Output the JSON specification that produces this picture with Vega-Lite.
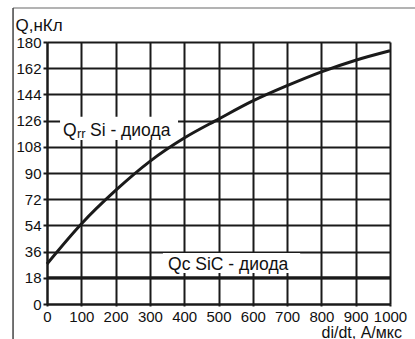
{
  "$schema": "https://vega.github.io/schema/vega-lite/v6.json",
  "width": 343,
  "height": 262,
  "autosize": "none",
  "padding": {"left": 47, "top": 42, "right": 25, "bottom": 35},
  "background": "white",
  "config": {
    "view": {"stroke": null},
    "font": "Liberation Sans",
    "axis": {
      "labelFont": "Liberation Sans",
      "titleFont": "Liberation Sans",
      "labelColor": "#111",
      "titleColor": "#111",
      "labelFontSize": 15,
      "titleFontSize": 15,
      "titleFontWeight": "normal",
      "grid": true,
      "gridColor": "#1a1a1a",
      "gridWidth": 2,
      "gridOpacity": 1,
      "domainColor": "#1a1a1a",
      "domainWidth": 2,
      "tickColor": "#1a1a1a",
      "tickWidth": 2,
      "labelOverlap": false,
      "labelFlush": false
    }
  },
  "datasets": {
    "qrr": [
      {"x": 0, "y": 27.5},
      {"x": 100, "y": 55},
      {"x": 200, "y": 78},
      {"x": 300, "y": 98},
      {"x": 400, "y": 114},
      {"x": 500, "y": 127},
      {"x": 600, "y": 139.5},
      {"x": 700, "y": 150},
      {"x": 800, "y": 159.5},
      {"x": 900, "y": 167.5},
      {"x": 1000, "y": 174}
    ],
    "qc": [
      {"x": 0, "y": 18},
      {"x": 1000, "y": 18}
    ],
    "boxes": [
      {"x": 38, "x2": 382, "y": 112.6, "y2": 128.6},
      {"x": 338, "x2": 738, "y": 21.3, "y2": 35.1}
    ],
    "labels": [
      {"x": 46.6, "y": 115.4, "label": "Q"},
      {"x": 125.4, "y": 115.4, "label": "Si - диода"},
      {"x": 353, "y": 23.3, "label": "Qc SiC - диода"}
    ],
    "subs": [
      {"x": 87.5, "y": 114.3, "label": "rr"}
    ],
    "frameTop": [{"x": -99, "x2": 1100, "y": 203.3}],
    "frameLeft": [{"x": -99, "y": -30, "y2": 203.3}]
  },
  "encoding": {
    "x": {
      "field": "x", "type": "quantitative",
      "scale": {"domain": [0, 1000], "nice": false, "zero": false},
      "axis": {
        "values": [0, 100, 200, 300, 400, 500, 600, 700, 800, 900, 1000],
        "tickCount": 20,
        "format": "d",
        "title": "di/dt, А/мкс",
        "titleFontSize": 16,
        "labelFontSize": 15,
        "titleAlign": "left",
        "titleAnchor": "start",
        "titleX": 274,
        "titleY": 33,
        "titleBaseline": "alphabetic",
        "tickSize": 2,
        "labelPadding": 3
      }
    },
    "y": {
      "field": "y", "type": "quantitative",
      "scale": {"domain": [0, 180], "nice": false, "zero": false},
      "axis": {
        "values": [0, 18, 36, 54, 72, 90, 108, 126, 144, 162, 180],
        "tickCount": 20,
        "format": "d",
        "title": "Q,нКл",
        "titleFontSize": 17,
        "labelFontSize": 15,
        "titleAngle": 0,
        "titleAlign": "left",
        "titleAnchor": "start",
        "titleX": -32,
        "titleY": -11.5,
        "titleBaseline": "alphabetic",
        "tickSize": 4,
        "labelPadding": 2
      }
    }
  },
  "layer": [
    {
      "data": {"name": "frameTop"},
      "mark": {"type": "rule", "clip": false, "color": "#9a9a9a", "strokeWidth": 1.5},
      "encoding": {"x2": {"field": "x2"}}
    },
    {
      "data": {"name": "frameLeft"},
      "mark": {"type": "rule", "clip": false, "color": "#444", "strokeWidth": 1.5},
      "encoding": {"y2": {"field": "y2"}}
    },
    {
      "data": {"name": "boxes"},
      "mark": {"type": "rect", "color": "white", "clip": false},
      "encoding": {"x2": {"field": "x2"}, "y2": {"field": "y2"}}
    },
    {
      "data": {"name": "qrr"},
      "mark": {"type": "line", "interpolate": "monotone", "color": "#1a1a1a", "strokeWidth": 3},
      "encoding": {}
    },
    {
      "data": {"name": "qc"},
      "mark": {"type": "line", "color": "#1a1a1a", "strokeWidth": 3},
      "encoding": {}
    },
    {
      "data": {"name": "labels"},
      "mark": {"type": "text", "align": "left", "baseline": "alphabetic", "fontSize": 17.5, "color": "#111", "font": "Liberation Sans"},
      "encoding": {"text": {"field": "label"}}
    },
    {
      "data": {"name": "subs"},
      "mark": {"type": "text", "align": "left", "baseline": "alphabetic", "fontSize": 13, "color": "#111", "font": "Liberation Sans"},
      "encoding": {"text": {"field": "label"}}
    }
  ]
}
